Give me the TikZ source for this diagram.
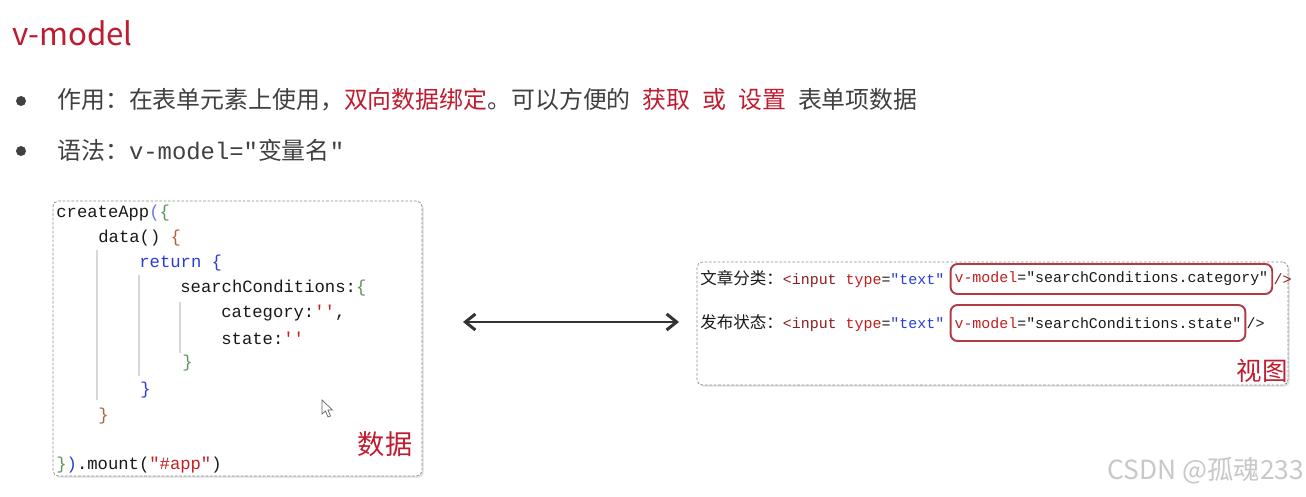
\documentclass[tikz,border=0pt]{standalone}
\usepackage{fontspec}
\setmainfont{Noto Sans CJK SC}
\setmonofont{Liberation Mono}
\usepackage{tikz}
\usetikzlibrary{arrows.meta,positioning,shadows}
\definecolor{myred}{RGB}{192,28,48}
\definecolor{mytext}{RGB}{64,64,64}
\definecolor{myboxred}{RGB}{178,58,70}
\definecolor{mykey}{RGB}{40,60,220}
\definecolor{mystr}{RGB}{196,30,30}
\definecolor{mygreen}{RGB}{90,150,90}
\definecolor{mybrown}{RGB}{170,100,60}
\definecolor{mytag}{RGB}{140,30,30}
\definecolor{myguide}{RGB}{215,215,215}
\definecolor{mymark}{RGB}{200,200,200}

\begin{document}
\begin{tikzpicture}[x=0.02cm, y=-0.02cm,
    txt/.style={anchor=west, inner sep=0pt, text=mytext,
                font=\fontsize{13.6}{16}\selectfont},
    codeline/.style={anchor=west, inner sep=0pt, text=black!90,
                     font=\fontsize{9.8}{11}\ttfamily},
    viewline/.style={anchor=west, inner sep=0pt, text=black!90,
                     font=\fontsize{8.5}{10}\ttfamily},
    panel/.style={draw=black!45, dash pattern=on 1.5pt off 1pt,
                  rounded corners=3pt, fill=white,
                  drop shadow={opacity=0.25, shadow xshift=1pt, shadow yshift=-1pt}},
    hilite/.style={draw=myboxred, line width=1.1pt, rounded corners=4pt,
                   inner xsep=0.08cm, inner ysep=0pt},
    tag/.style={text=myred, inner sep=0pt},
    twoway/.style={{Straight Barb[length=0.2cm, width=0.32cm]}-{Straight Barb[length=0.2cm, width=0.32cm]},
                   line width=1.7pt, black!80}]
  \useasboundingbox[fill=white] (0,0) rectangle (1306,497);

  \node[anchor=west, inner sep=0pt, text=myred, font=\fontsize{17.8}{21}\selectfont]
    (title) at (12,33){v-model};

  \foreach \n/\y in {1/101, 2/151}{
    \node[circle, fill=mytext, inner sep=0pt, minimum size=0.2cm] (dot\n) at (21,\y){};
  }
  \node[txt] (use) at (57,100){作用：在表单元素上使用，\textcolor{myred}{双向数据绑定}。可以方便的\enspace
    \textcolor{myred}{获取}\enspace\textcolor{myred}{或}\enspace\textcolor{myred}{设置}\enspace 表单项数据};
  \node[txt] (syntax) at (57,150){语法：{\ttfamily v-model="}变量名{\ttfamily "}};

  % data side
  \node[panel, minimum width=7.38cm, minimum height=5.5cm] (databox) at (237.5,338.5){};
  \foreach \gx/\ga/\gb in {97/250/400, 139/275/376, 180/302/353}{
    \draw[myguide, line width=0.6pt] (\gx,\ga) -- (\gx,\gb);
  }
  \node[codeline] (c1) at (56,213){createApp\textcolor{mykey!70}{(}\textcolor{mygreen}{\{}};
  \node[codeline] (c2) at (98,238){data() \textcolor{mybrown}{\{}};
  \node[codeline] (c3) at (139,263){\textcolor{mykey}{return \{}};
  \node[codeline] (c4) at (180,288){searchConditions:\textcolor{mygreen}{\{}};
  \node[codeline] (c5) at (221,313){category:\textcolor{mystr}{''},};
  \node[codeline] (c6) at (221,338){state:\textcolor{mystr}{''}};
  \node[codeline] (c7) at (182,363){\textcolor{mygreen}{\}}};
  \node[codeline] (c8) at (140,390){\textcolor{mykey}{\}}};
  \node[codeline] (c9) at (98,416){\textcolor{mybrown}{\}}};
  \node[codeline] (c10) at (56,465){\textcolor{mygreen}{\}}\textcolor{mykey}{)}.mount(\textcolor{mystr}{"\#app"})};
  \draw[black!60, fill=white, line width=0.4pt] (322,400) -- (322,414) -- (325.5,411)
    -- (328,417) -- (330.5,416) -- (328,410) -- (332.5,410) -- cycle;
  \node[tag, font=\fontsize{15.5}{18}\selectfont] (datalbl) at (385,444){数据};

  % view side
  \node[panel, minimum width=11.82cm, minimum height=2.46cm] (viewbox) at (992.5,323.5){};
  \node[viewline] (row1) at (700,279){{\rmfamily\fontsize{9.4}{10}\selectfont 文章分类：}\textcolor{mytag}{<input}
    \textcolor{mystr}{type}=\textcolor{mykey}{"text"}};
  \node[viewline, hilite, minimum height=0.6cm, right=0.1cm of row1] (vm1)
    {\textcolor{mystr}{v-model}="searchConditions.category"};
  \node[viewline, text=mytag, right=0pt of vm1] (end1){/>};
  \node[viewline] (row2) at (700,323){{\rmfamily\fontsize{9.4}{10}\selectfont 发布状态：}\textcolor{mytag}{<input}
    \textcolor{mystr}{type}=\textcolor{mykey}{"text"}};
  \node[viewline, hilite, minimum height=0.72cm, right=0.1cm of row2] (vm2)
    {\textcolor{mystr}{v-model}="searchConditions.state"};
  \node[viewline, right=0pt of vm2] (end2){/>};
  \node[tag, font=\fontsize{14.5}{17}\selectfont] (viewlbl) at (1262,371){视图};

  \coordinate (arrL) at (463,322);
  \coordinate (arrR) at (679,322);
  \draw[twoway] (arrL) -- (arrR);

  \node[text=mymark, inner sep=0pt, font=\fontsize{15}{17}\selectfont] (mark) at (1206,471){CSDN @孤魂233};
\end{tikzpicture}
\end{document}
